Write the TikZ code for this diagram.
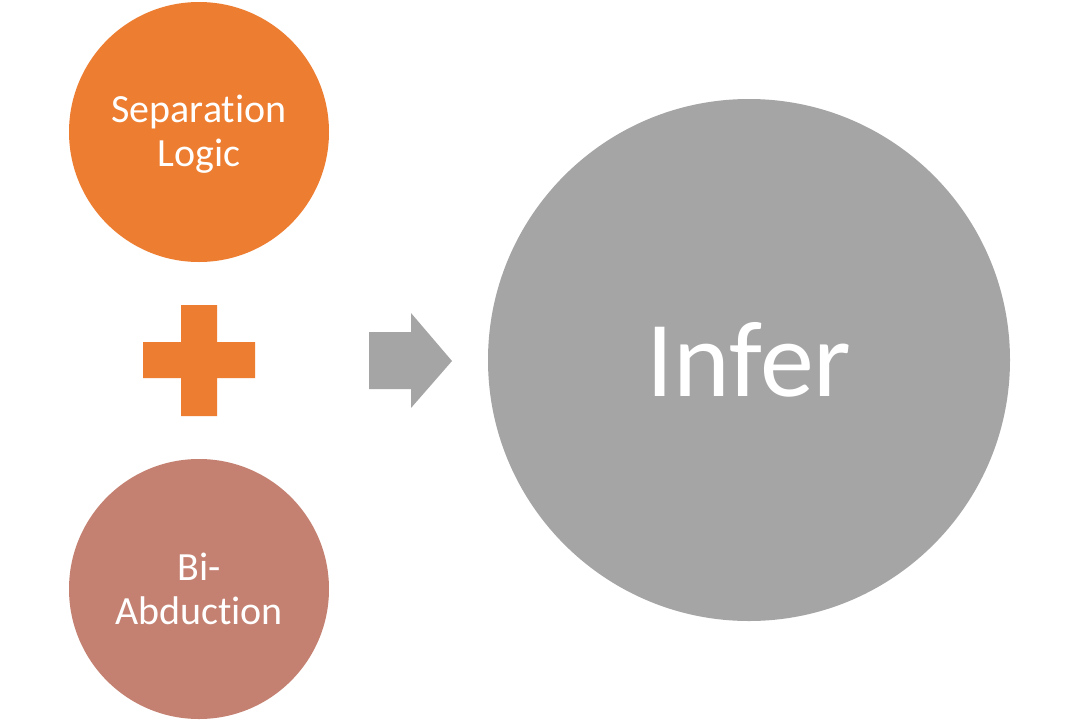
\documentclass[tikz,border=0pt]{standalone}
\usepackage{fontspec}
\setmainfont{Carlito}[Ligatures={NoCommon}]
\definecolor{accOrange}{HTML}{ED7D31}
\definecolor{accGray}{HTML}{A5A5A5}
\definecolor{accBrown}{HTML}{C48070}
\begin{document}
\begin{tikzpicture}[x=1pt,y=-1pt,
  bubble/.style={circle,inner sep=0pt,minimum size=260pt,text=white,align=center,
    font=\fontsize{40}{44}\selectfont},
  bigbubble/.style={circle,inner sep=0pt,minimum size=522pt,fill=accGray,text=white,
    font=\fontsize{108}{118}\selectfont}]
\useasboundingbox[fill=white] (0,0) rectangle (1080,721);
\node[bubble,fill=accOrange] (sep) at (199,132) {};
\node[text=white,align=center,font=\fontsize{40}{44}\selectfont] (septext) at (199,134) {Separation\\Logic};
\node[bubble,fill=accBrown] (bi) at (199,589) {Bi-\\Abduction};
\node[bigbubble] (infer) at (749,360) {Infer};
% plus sign
\fill[accOrange] (181,305) -- (217,305) -- (217,342) -- (255,342) -- (255,378)
  -- (217,378) -- (217,416) -- (181,416) -- (181,378) -- (143,378) -- (143,342)
  -- (181,342) -- cycle;
% block arrow
\fill[accGray] (369,332) -- (411,332) -- (411,313) -- (452,361) -- (411,408)
  -- (411,389) -- (369,389) -- cycle;
\end{tikzpicture}
\end{document}
